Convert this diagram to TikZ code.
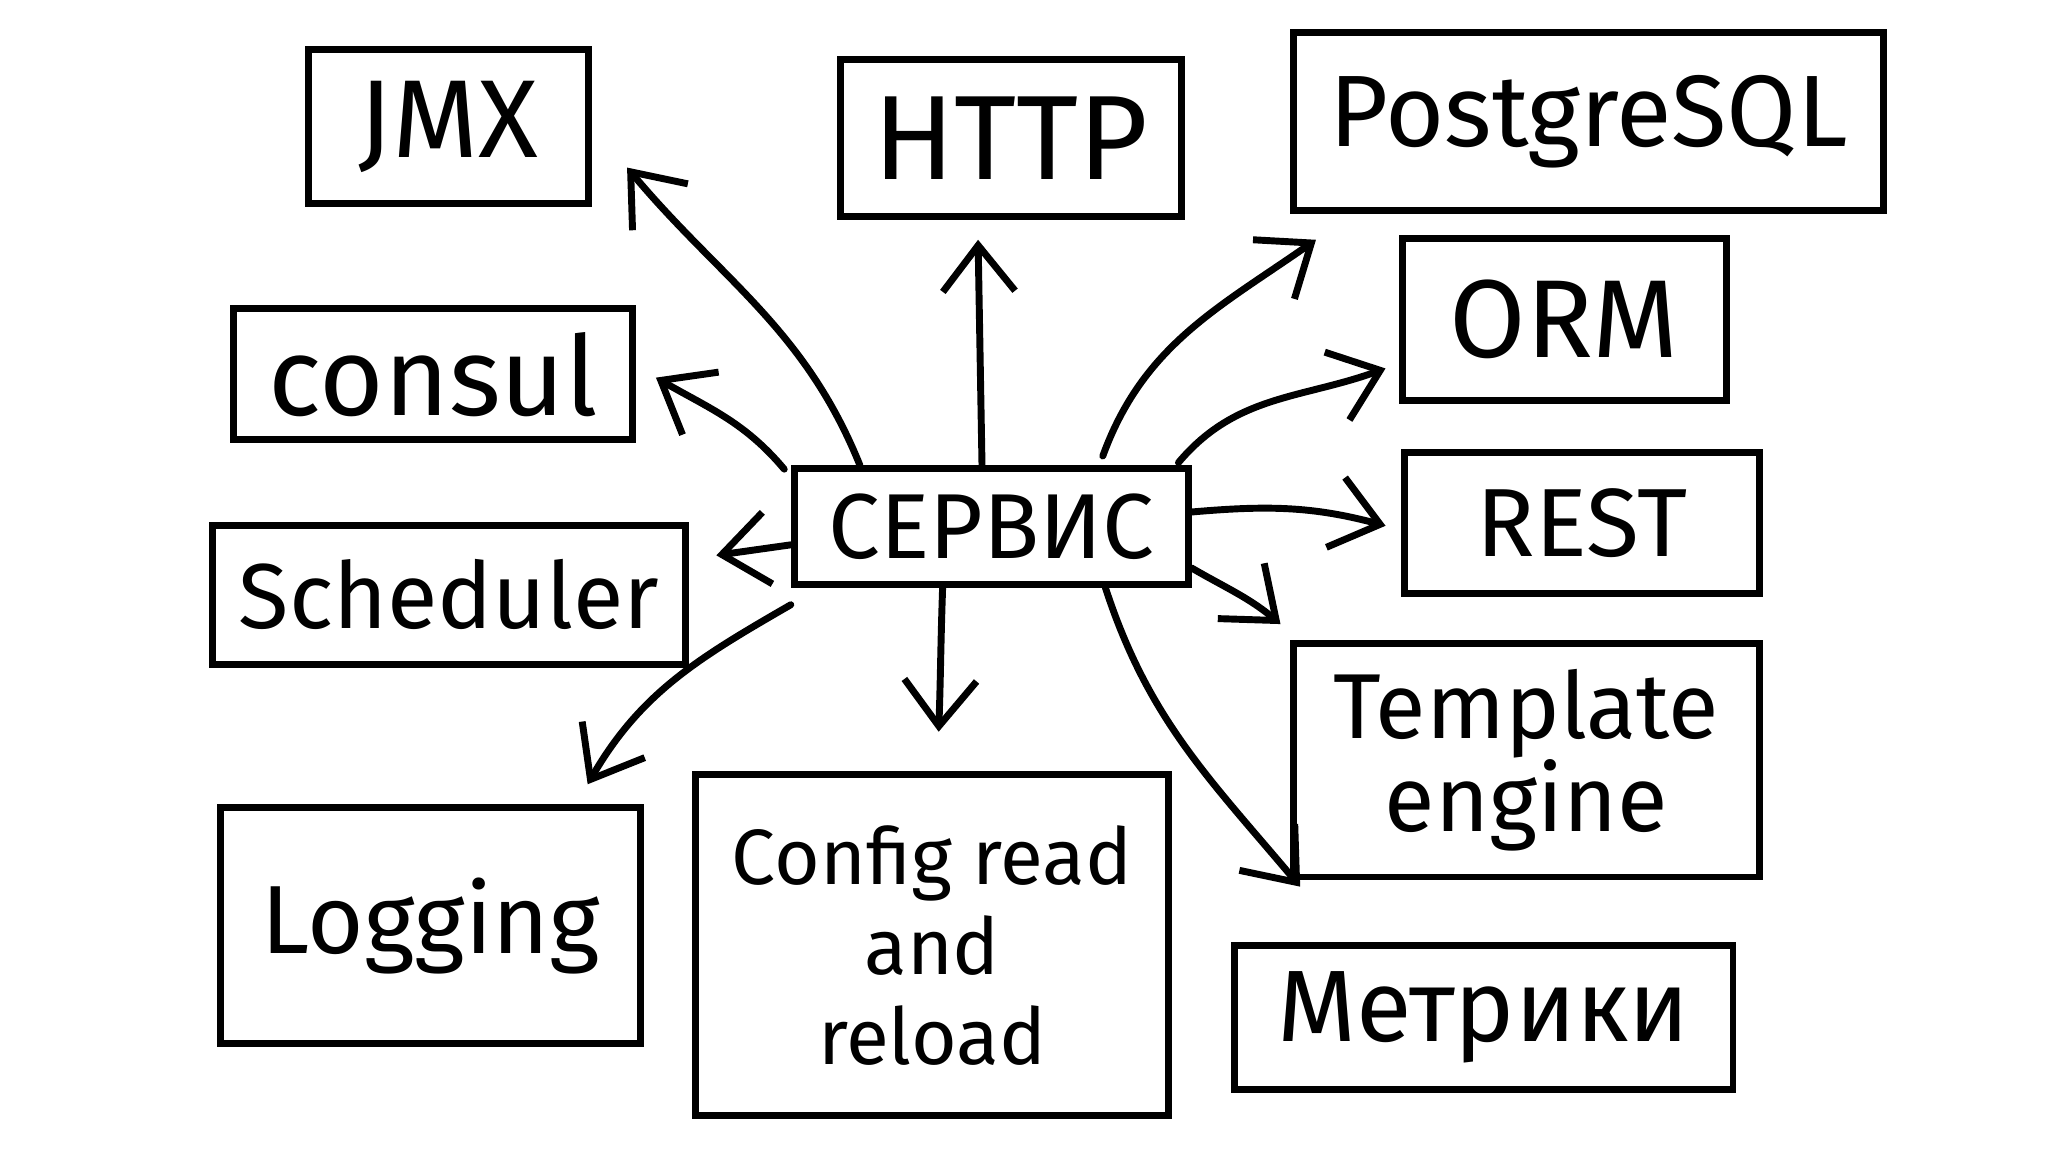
\documentclass[tikz,border=0pt]{standalone}
\usepackage{fontspec}
\setmainfont{Fira Sans}
\usepackage{tikz}
\usetikzlibrary{arrows.meta}
\newcommand{\fsz}[2]{\fontsize{#1pt}{#2pt}\selectfont}
\tikzstyle{block}     = [draw,line width=1.5pt,inner sep=0pt,align=center]
\tikzstyle{arrow}     = [line width=1.5pt,line cap=round,line join=round,-{Straight Barb[length=3.5mm,width=5.5mm]}]

\begin{document}
\begin{tikzpicture}
  \useasboundingbox (0,0) rectangle (15.6,-8.775);

  %the service in the middle
  \node[block,minimum width=3cm,minimum height=0.88cm,font=\fsz{20}{24}] (srv) at (7.55,-4.01) {СЕРВИС};

  %put some boxes on the left
  \node[block,minimum width=2.13cm,minimum height=1.17cm,font=\fsz{24}{28}] (jmx) at (3.415,-0.965) {JMX};
  \node[block,minimum width=3.04cm,minimum height=1.0cm,font=\fsz{24}{28}] (consul) at (3.30,-2.85) {consul};
  \node[block,minimum width=3.6cm,minimum height=1.06cm,font=\fsz{20}{24}] (sched) at (3.42,-4.53) {Scheduler};
  \node[block,minimum width=3.2cm,minimum height=1.8cm,font=\fsz{21}{26}] (log) at (3.28,-7.05) {Logging};

  %boxes above and below
  \node[block,minimum width=2.6cm,minimum height=1.2cm,font=\fsz{26}{30}] (http) at (7.70,-1.05) {HTTP};
  \node[block,minimum width=3.6cm,minimum height=2.6cm,font=\fsz{17}{19.5}] (cfg) at (7.10,-7.20) {Config read\\and\\reload};

  %put some boxes on the right
  \node[block,minimum width=4.5cm,minimum height=1.35cm,font=\fsz{22}{26}] (pg) at (12.10,-0.925) {PostgreSQL};
  \node[block,minimum width=2.47cm,minimum height=1.23cm,font=\fsz{24}{28}] (orm) at (11.915,-2.435) {ORM};
  \node[block,minimum width=2.7cm,minimum height=1.07cm,font=\fsz{21}{25}] (rest) at (12.05,-3.985) {REST};
  \node[block,minimum width=3.55cm,minimum height=1.78cm,font=\fsz{20}{20}] (tmpl) at (11.625,-5.79) {Template\\engine};
  \node[block,minimum width=3.8cm,minimum height=1.1cm,font=\fsz{22}{26}] (metr) at (11.30,-7.75) {Метрики};

  %arrows out of the service
  \draw[arrow] ([xshift=-1cm]srv.north) to[out=112,in=-50] ([shift={(0.27,0.3)}]jmx.south east);
  \draw[arrow] ([shift={(-0.05,-0.03)}]srv.north west) to[out=130,in=-30] ([shift={(0.15,0.5)}]consul.south east);
  \draw[arrow] ([yshift=-0.14cm]srv.west) -- ([shift={(0.21,0.3)}]sched.east);
  \draw[arrow] ([yshift=-0.13cm]srv.south west) to[out=-150,in=60] ([shift={(-0.43,0.15)}]log.north east);
  \draw[arrow] ([xshift=-0.07cm]srv.north) -- ([shift={(-0.25,-0.15)}]http.south);
  \draw[arrow] ([xshift=-0.37cm]srv.south) to[out=-92,in=88] ([shift={(0.05,0.3)}]cfg.north);
  \draw[arrow] ([shift={(0.85,0.07)}]srv.north) to[out=70,in=-145] ([shift={(0.2,-0.2)}]pg.south west);
  \draw[arrow] ([shift={(-0.1,0.02)}]srv.north east) to[out=50,in=-160] ([shift={(-0.1,0.27)}]orm.south west);
  \draw[arrow] ([yshift=0.11cm]srv.east) to[out=5,in=165] ([shift={(-0.12,-0.02)}]rest.west);
  \draw[arrow] ([yshift=0.15cm]srv.south east) to[out=-30,in=140] ([shift={(-0.07,0.12)}]tmpl.north west);
  \draw[arrow] ([xshift=0.87cm]srv.south) to[out=-72,in=130] ([shift={(0.53,0.42)}]metr.north west);
\end{tikzpicture}
\end{document}
